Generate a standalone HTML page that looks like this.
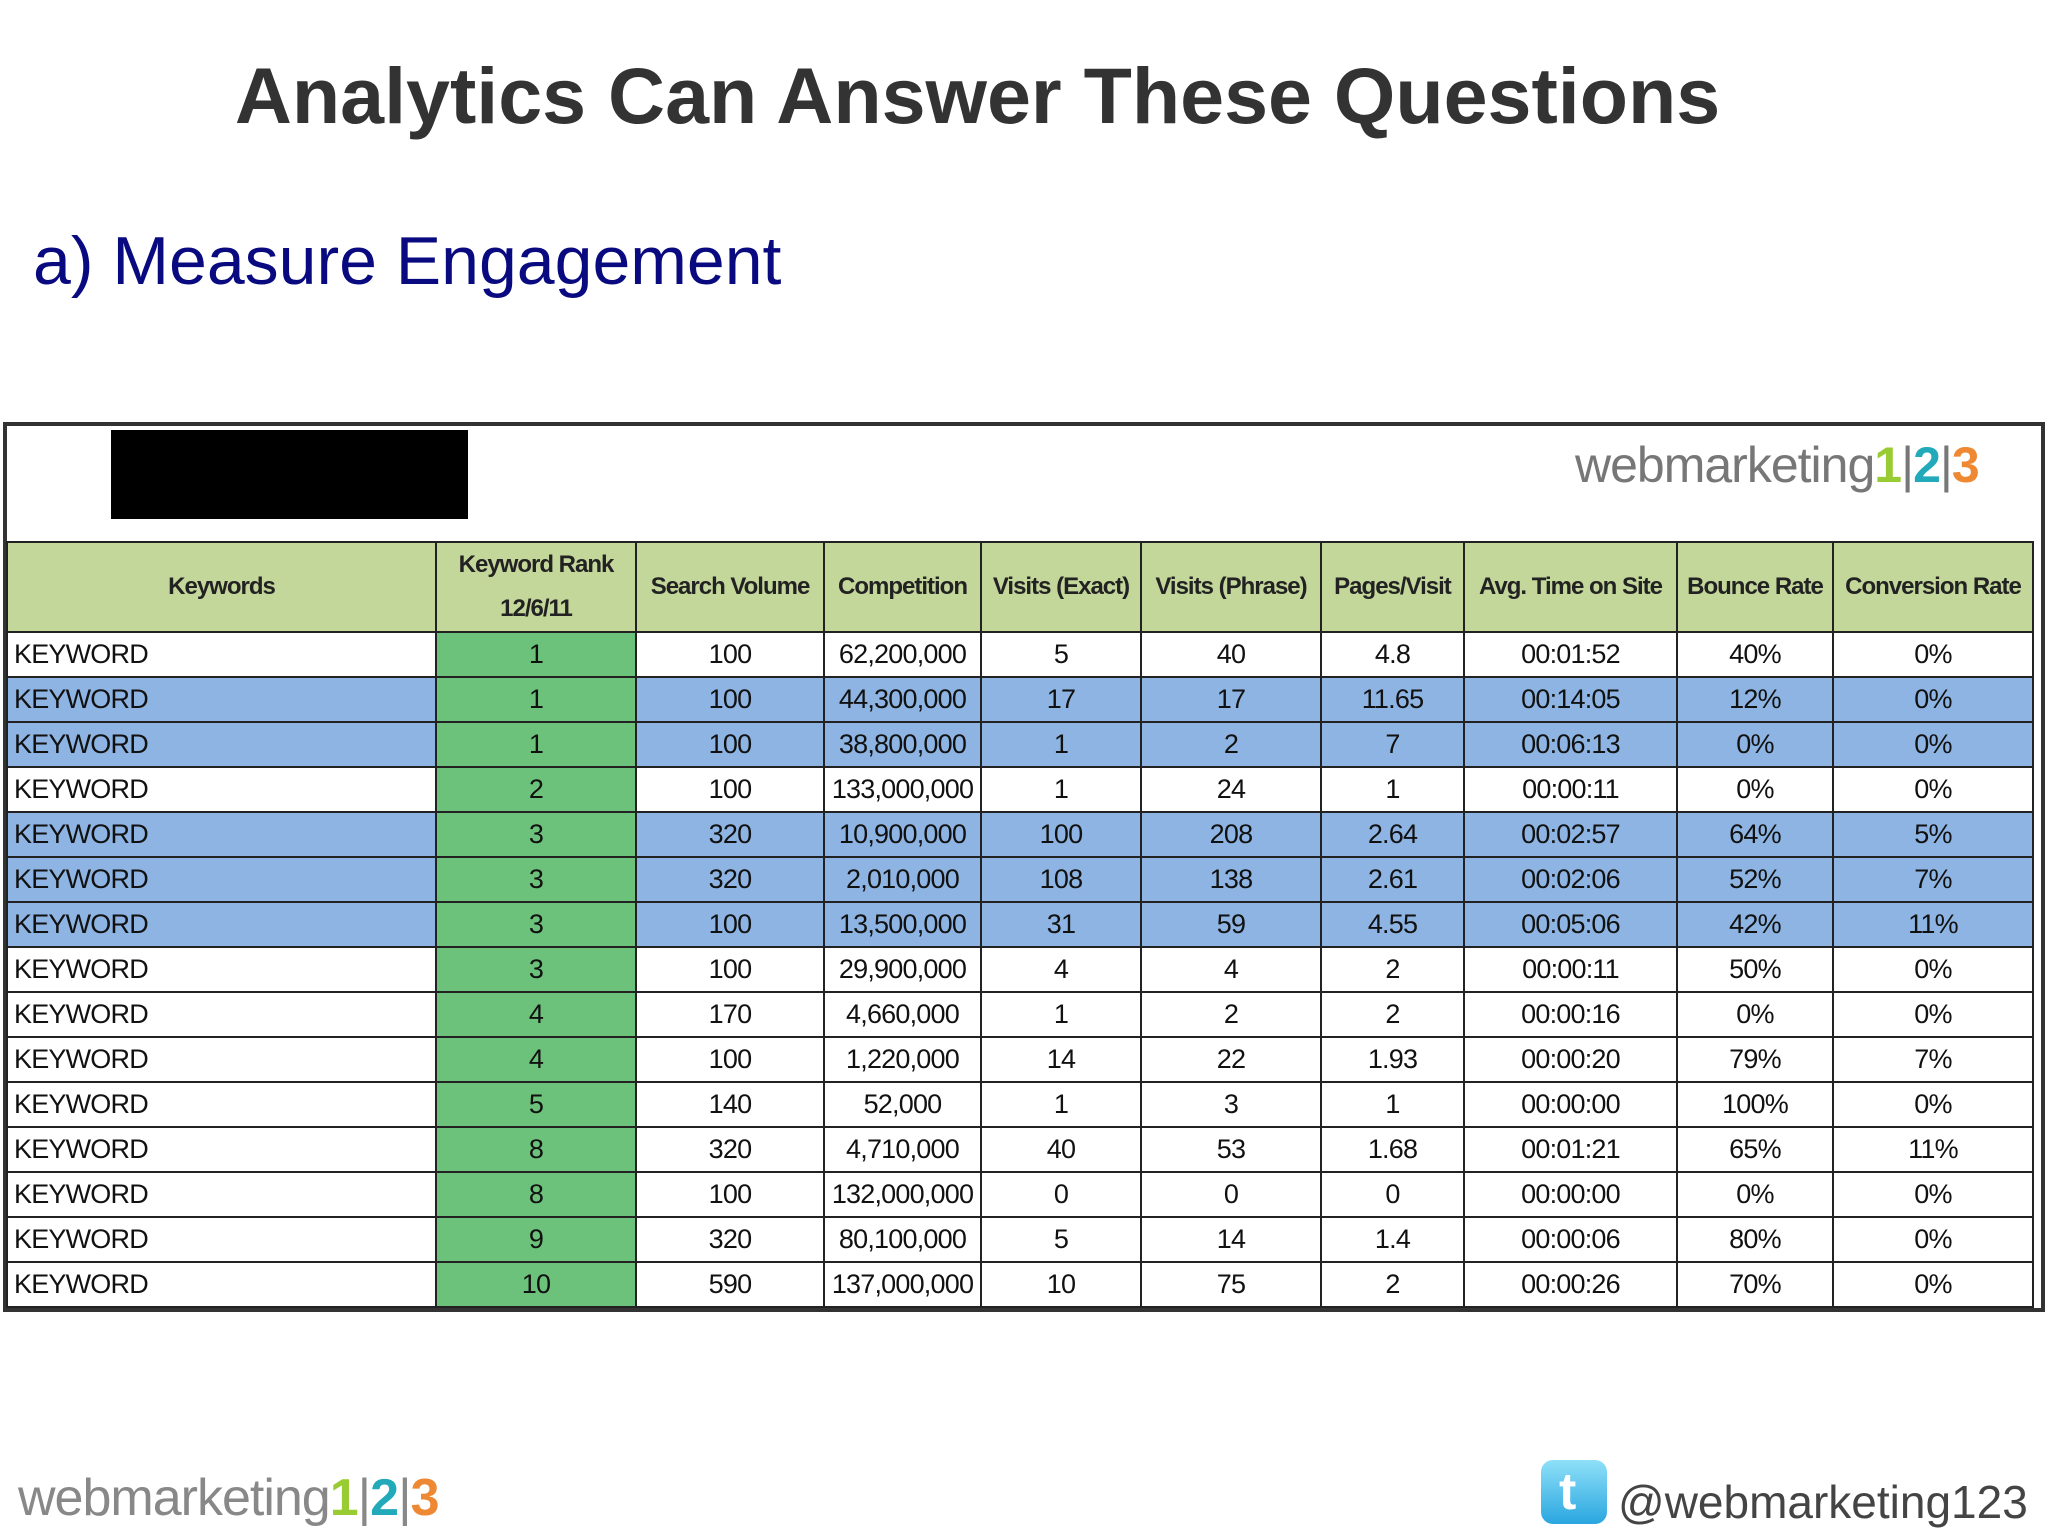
<!DOCTYPE html>
<html><head><meta charset="utf-8">
<style>
body{margin:0;width:2048px;height:1536px;background:#fff;position:relative;overflow:hidden;font-family:"Liberation Sans",sans-serif}
.abs{position:absolute}
#title{left:0;width:1955px;top:50px;text-align:center;font-weight:bold;font-size:79px;color:#333}
#sub{left:33px;top:222px;font-size:68px;color:#0a0a80}
#frame{left:3px;top:422px;width:2042px;height:890px;border:4px solid #333;box-sizing:border-box;background:#fff}
#blk{left:111px;top:430px;width:357px;height:89px;background:#000}
#logo1{left:1575px;top:436px;font-size:50px;color:#777;letter-spacing:-1px}
table{position:absolute;left:6px;top:541px;width:2026px;border-collapse:collapse;table-layout:fixed;font-family:"Liberation Sans",sans-serif;font-size:27px;letter-spacing:-0.8px;color:#111}
td,th{border:2px solid #222;padding:0;height:43px;text-align:center;white-space:nowrap;overflow:hidden}
th{background:#c4d79b;font-weight:bold;height:88px;font-size:24px;letter-spacing:-1px;line-height:44px;color:#222}
td.k{text-align:left;padding-left:6px}
td.r{background:#6cc27b}
tr.b td{background:#8db4e2}
tr.b td.r{background:#6cc27b}
#logo2{left:18px;top:1468px;font-size:52px;color:#888;letter-spacing:-1px}
#tw{left:1541px;top:1460px;width:66px;height:64px;border-radius:12px;background:linear-gradient(#8fe0f8,#2aa6e0)}
#handle{left:1618px;top:1475px;font-size:46px;color:#444}
</style></head><body>
<div id="title" class="abs">Analytics Can Answer These Questions</div>
<div id="sub" class="abs">a) Measure Engagement</div>
<div id="frame" class="abs"></div>
<div id="blk" class="abs"></div>
<div id="logo1" class="abs">webmarketing<b style="color:#9c3">1</b>|<b style="color:#2ab">2</b>|<b style="color:#e83">3</b></div>
<table id="tbl">
<colgroup><col style="width:429px"><col style="width:200px"><col style="width:188px"><col style="width:157px"><col style="width:160px"><col style="width:180px"><col style="width:143px"><col style="width:213px"><col style="width:156px"><col style="width:200px"></colgroup>
<thead><tr id="hdr"></tr></thead><tbody id="body"></tbody></table>
<div id="logo2" class="abs">webmarketing<b style="color:#9c3">1</b>|<b style="color:#2ab">2</b>|<b style="color:#e83">3</b></div>
<div id="tw" class="abs"><span style="position:absolute;left:18px;top:2px;font:bold 52px 'Liberation Sans';color:#fff">t</span></div>
<div id="handle" class="abs">@webmarketing123</div>
<script>
var headers=["Keywords","Keyword Rank<br>12/6/11","Search Volume","Competition","Visits (Exact)","Visits (Phrase)","Pages/Visit","Avg. Time on Site","Bounce Rate","Conversion Rate"];
var rank=[1,1,1,2,3,3,3,3,4,4,5,8,8,9,10];
var volume=[100,100,100,100,320,320,100,100,170,100,140,320,100,320,590];
var competition=["62,200,000","44,300,000","38,800,000","133,000,000","10,900,000","2,010,000","13,500,000","29,900,000","4,660,000","1,220,000","52,000","4,710,000","132,000,000","80,100,000","137,000,000"];
var exact=[5,17,1,1,100,108,31,4,1,14,1,40,0,5,10];
var phrase=[40,17,2,24,208,138,59,4,2,22,3,53,0,14,75];
var pages=["4.8","11.65","7","1","2.64","2.61","4.55","2","2","1.93","1","1.68","0","1.4","2"];
var time=["00:01:52","00:14:05","00:06:13","00:00:11","00:02:57","00:02:06","00:05:06","00:00:11","00:00:16","00:00:20","00:00:00","00:01:21","00:00:00","00:00:06","00:00:26"];
var bounce=["40%","12%","0%","0%","64%","52%","42%","50%","0%","79%","100%","65%","0%","80%","70%"];
var conv=["0%","0%","0%","0%","5%","7%","11%","0%","0%","7%","0%","11%","0%","0%","0%"];
var blue=[1,2,4,5,6];
var hdr=document.getElementById('hdr');
headers.forEach(function(h){var th=document.createElement('th');


th.innerHTML=h;hdr.appendChild(th);});
var body=document.getElementById('body');
for(var i=0;i<rank.length;i++){var tr=document.createElement('tr');


if(blue.indexOf(i)>=0)tr.className='b';
var vals=["KEYWORD",rank[i],volume[i],competition[i],exact[i],phrase[i],pages[i],time[i],bounce[i],conv[i]];
vals.forEach(function(v,j){var td=document.createElement('td');


if(j==0)td.className='k';if(j==1)td.className='r';td.textContent=v;tr.appendChild(td);});
body.appendChild(tr);}
</script>
</body></html>
